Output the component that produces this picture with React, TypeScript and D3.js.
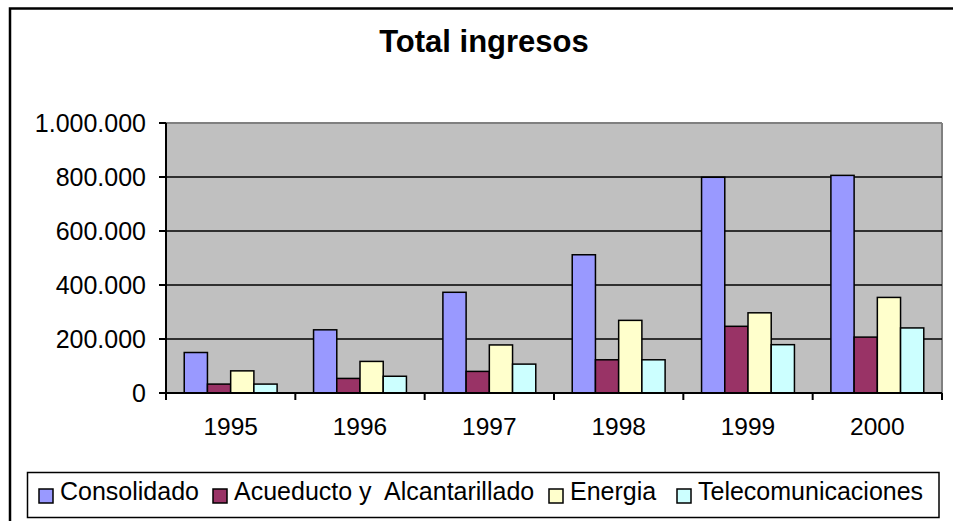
import React from "react";
import * as d3 from "d3";

const years = ["1995", "1996", "1997", "1998", "1999", "2000"];
const seriesNames = ["Consolidado", "Acueducto y  Alcantarillado", "Energia", "Telecomunicaciones"];
const consolidado = [150000, 234000, 373000, 512000, 799000, 806000];
const acueducto = [33000, 54000, 80000, 123000, 247000, 207000];
const energia = [82000, 117000, 178000, 269000, 297000, 354000];
const telecom = [33000, 62000, 107000, 123000, 179000, 241000];
const yTicks = [0, 200000, 400000, 600000, 800000, 1000000];
const colors = ["#9999FF", "#993366", "#FFFFCC", "#CCFFFF"];

const W = 953, H = 521;
const plot = { left: 166, right: 942, top: 123, bottom: 393 };
const FONT = "Arial, 'Liberation Sans', Helvetica, sans-serif";

const fmt = (v: number) => d3.format(",")(v).replace(/,/g, ".");

export default function App() {
  const seriesValues = [consolidado, acueducto, energia, telecom];
  const x0 = d3.scaleBand<string>().domain(years).range([plot.left, plot.right]).paddingInner(0).paddingOuter(0);
  const cw = x0.bandwidth();
  const groupW = (cw * 4) / 5.57;
  const off = (cw - groupW) / 2;
  const x1 = d3.scaleBand<number>().domain([0, 1, 2, 3]).range([0, groupW]).padding(0);
  const y = d3.scaleLinear().domain([0, 1000000]).range([plot.bottom, plot.top]);

  const legendX = [38, 212, 548, 676];

  return (
    <svg width={W} height={H} style={{ position: "absolute", left: 0, top: 0, background: "#fff" }} fontFamily={FONT}>
      <rect x={0} y={0} width={W} height={H} fill="#fff" />
      <rect x={10} y={8.5} width={W + 20} height={H + 20} fill="none" stroke="#000" strokeWidth={2.5} />
      <text x={484} y={52} textAnchor="middle" fontSize={31} fontWeight="bold" fill="#000">Total ingresos</text>

      {/* plot area */}
      <rect x={plot.left} y={plot.top} width={plot.right - plot.left} height={plot.bottom - plot.top} fill="#C0C0C0" />
      <line x1={plot.left} x2={plot.right} y1={plot.top} y2={plot.top} stroke="#808080" strokeWidth={2} />
      <line x1={plot.right} x2={plot.right} y1={plot.top} y2={plot.bottom} stroke="#808080" strokeWidth={2} />
      {yTicks.filter((t) => t > 0 && t < 1000000).map((t) => (
        <line key={t} x1={plot.left} x2={plot.right} y1={y(t)} y2={y(t)} stroke="#000" strokeWidth={1.5} />
      ))}

      {/* bars */}
      {years.map((yr, i) => (
        <g key={yr}>
          {seriesValues.map((vals, s) => (
            <rect
              key={s}
              x={(x0(yr) as number) + off + (x1(s) as number)}
              y={y(vals[i])}
              width={x1.bandwidth()}
              height={plot.bottom - y(vals[i])}
              fill={colors[s]}
              stroke="#000"
              strokeWidth={1.5}
            />
          ))}
        </g>
      ))}

      {/* axes */}
      <line x1={plot.left} x2={plot.left} y1={plot.top} y2={plot.bottom} stroke="#000" strokeWidth={2} />
      <line x1={plot.left} x2={plot.right} y1={plot.bottom} y2={plot.bottom} stroke="#000" strokeWidth={2} />
      {yTicks.map((t) => (
        <g key={t}>
          <line x1={plot.left - 7} x2={plot.left} y1={y(t)} y2={y(t)} stroke="#000" strokeWidth={2} />
          <text x={146} y={y(t) + 9} textAnchor="end" fontSize={25} fill="#000">{fmt(t)}</text>
        </g>
      ))}
      {years.concat(["end"]).map((yr, i) => (
        <line key={yr} x1={plot.left + i * cw} x2={plot.left + i * cw} y1={plot.bottom} y2={plot.bottom + 7} stroke="#000" strokeWidth={2} />
      ))}
      {years.map((yr) => (
        <text key={yr} x={(x0(yr) as number) + cw / 2} y={435} textAnchor="middle" fontSize={24.5} fill="#000">{yr}</text>
      ))}

      {/* legend */}
      <rect x={27.5} y={472.5} width={911.5} height={45} fill="#fff" stroke="#000" strokeWidth={1.5} />
      {seriesNames.map((n, s) => (
        <g key={n}>
          <rect x={legendX[s] + 1} y={489} width={14} height={14} fill={colors[s]} stroke="#000" strokeWidth={1.5} />
          <text x={legendX[s] + 22} y={500} fontSize={25} fill="#000" style={{ whiteSpace: "pre" }}>{n}</text>
        </g>
      ))}
    </svg>
  );
}
